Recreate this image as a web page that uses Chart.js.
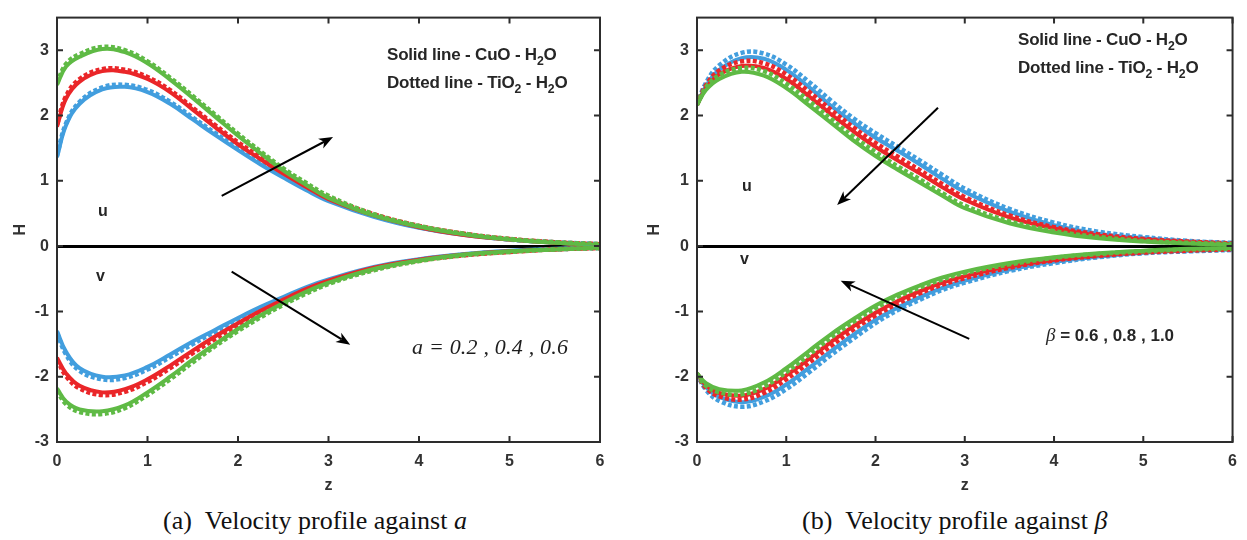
<!DOCTYPE html>
<html>
<head>
<meta charset="utf-8">
<script src="https://cdn.jsdelivr.net/npm/chart.js@4.4.1/dist/chart.umd.min.js"></script>
<style>
  html, body { margin: 0; padding: 0; background: #fff; }
  #wrap { position: relative; width: 1247px; height: 540px; background: #fff; overflow: hidden; }
  canvas { position: absolute; top: 0; }
  .t { position: absolute; white-space: nowrap; color: #262626; font-family: "Liberation Sans", Arial, sans-serif; font-weight: bold; }
  .leg { font-size: 17px; line-height: 17px; letter-spacing: -0.2px; }
  .leg sub { font-size: 0.72em; vertical-align: -0.38em; line-height: 0; }
  .uv { font-size: 16px; line-height: 16px; }
  .par { font-family: "Liberation Serif", "Times New Roman", serif; font-style: italic; font-weight: normal; font-size: 22px; line-height: 22px; color: #1e1e1e; letter-spacing: 0.2px; }
  .beta { font-size: 17px; line-height: 17px; }
  .beta i { font-family: "Liberation Serif", serif; font-weight: normal; font-size: 19px; }
  .cap { font-family: "Liberation Serif", "Times New Roman", serif; font-weight: normal; font-size: 26px; line-height: 26px; color: #111; }
</style>
</head>
<body>
<div id="wrap">
  <canvas id="c1" width="620" height="500" style="left:0px"></canvas>
  <canvas id="c2" width="607" height="500" style="left:640px"></canvas>

  <div class="t leg" style="left:387px; top:46px;">Solid line - CuO - H<sub>2</sub>O</div>
  <div class="t leg" style="left:387px; top:74px;">Dotted line - TiO<sub>2</sub> - H<sub>2</sub>O</div>
  <div class="t uv" style="left:98px; top:203px;">u</div>
  <div class="t uv" style="left:96px; top:268px;">v</div>
  <div class="t par" style="left:412px; top:336px;">a = 0.2 , 0.4 , 0.6</div>

  <div class="t leg" style="left:1018px; top:31px;">Solid line - CuO - H<sub>2</sub>O</div>
  <div class="t leg" style="left:1018px; top:59px;">Dotted line - TiO<sub>2</sub> - H<sub>2</sub>O</div>
  <div class="t uv" style="left:742px; top:178px;">u</div>
  <div class="t uv" style="left:740px; top:251px;">v</div>
  <div class="t beta" style="left:1046px; top:326px;"><i>β</i> = 0.6 , 0.8 , 1.0</div>

  <div class="t cap" style="left:163px; top:508px;">(a)&nbsp;&nbsp;Velocity profile against <i>a</i></div>
  <div class="t cap" style="left:802px; top:508px;">(b)&nbsp;&nbsp;Velocity profile against <i>β</i></div>
</div>

<script>
// ---------------- DATA ----------------
const zValues = [0, 0.1, 0.25, 0.5, 0.75, 1, 1.25, 1.5, 1.75, 2, 2.25, 2.5, 2.75, 3, 3.5, 4, 4.5, 5, 5.5, 6];
const xTicks = [0, 1, 2, 3, 4, 5, 6];
const yTicks = [-3, -2, -1, 0, 1, 2, 3];

// Panel (a): varying a = 0.2 (blue), 0.4 (red), 0.6 (green)
const aUBlueSolid   = [1.36, 1.85, 2.18, 2.40, 2.44, 2.36, 2.18, 1.94, 1.70, 1.47, 1.25, 1.05, 0.86, 0.69, 0.45, 0.28, 0.17, 0.10, 0.05, 0.02];
const aUBlueDotted  = [1.39, 1.88, 2.21, 2.43, 2.47, 2.39, 2.21, 1.97, 1.73, 1.50, 1.28, 1.08, 0.88, 0.71, 0.47, 0.29, 0.18, 0.10, 0.06, 0.03];
const aURedSolid    = [1.83, 2.26, 2.52, 2.68, 2.67, 2.56, 2.36, 2.09, 1.82, 1.56, 1.33, 1.11, 0.91, 0.72, 0.47, 0.29, 0.17, 0.10, 0.05, 0.02];
const aURedDotted   = [1.86, 2.30, 2.56, 2.71, 2.70, 2.59, 2.39, 2.12, 1.85, 1.59, 1.36, 1.14, 0.93, 0.74, 0.49, 0.31, 0.19, 0.11, 0.06, 0.03];
const aUGreenSolid  = [2.47, 2.75, 2.90, 3.02, 2.97, 2.80, 2.55, 2.27, 1.98, 1.69, 1.42, 1.16, 0.94, 0.74, 0.47, 0.30, 0.18, 0.10, 0.05, 0.02];
const aUGreenDotted = [2.50, 2.79, 2.94, 3.05, 3.00, 2.83, 2.58, 2.30, 2.01, 1.72, 1.45, 1.19, 0.97, 0.77, 0.49, 0.31, 0.19, 0.11, 0.06, 0.03];

const aVBlueSolid   = [-1.30, -1.62, -1.87, -2.00, -1.98, -1.85, -1.66, -1.46, -1.28, -1.10, -0.93, -0.78, -0.63, -0.51, -0.32, -0.20, -0.12, -0.07, -0.04, -0.02];
const aVBlueDotted  = [-1.33, -1.66, -1.91, -2.04, -2.02, -1.89, -1.70, -1.50, -1.31, -1.13, -0.96, -0.80, -0.65, -0.53, -0.34, -0.21, -0.13, -0.08, -0.05, -0.03];
const aVRedSolid    = [-1.71, -1.95, -2.14, -2.24, -2.19, -2.04, -1.83, -1.60, -1.38, -1.18, -0.99, -0.82, -0.66, -0.53, -0.33, -0.21, -0.13, -0.08, -0.05, -0.02];
const aVRedDotted   = [-1.74, -1.99, -2.18, -2.28, -2.23, -2.08, -1.87, -1.64, -1.42, -1.21, -1.02, -0.85, -0.69, -0.55, -0.35, -0.22, -0.14, -0.09, -0.05, -0.03];
const aVGreenSolid  = [-2.18, -2.38, -2.50, -2.53, -2.44, -2.24, -2.00, -1.74, -1.50, -1.27, -1.06, -0.87, -0.70, -0.56, -0.35, -0.22, -0.13, -0.08, -0.05, -0.02];
const aVGreenDotted = [-2.21, -2.42, -2.54, -2.57, -2.48, -2.28, -2.04, -1.78, -1.53, -1.30, -1.09, -0.90, -0.73, -0.58, -0.37, -0.23, -0.14, -0.09, -0.05, -0.03];

// Panel (b): varying beta = 0.6 (blue), 0.8 (red), 1.0 (green)
const bUBlueSolid   = [2.16, 2.45, 2.70, 2.88, 2.87, 2.70, 2.44, 2.15, 1.89, 1.66, 1.46, 1.25, 1.03, 0.83, 0.53, 0.32, 0.19, 0.12, 0.07, 0.04];
const bUBlueDotted  = [2.17, 2.50, 2.77, 2.96, 2.95, 2.78, 2.52, 2.23, 1.96, 1.73, 1.52, 1.31, 1.09, 0.88, 0.57, 0.36, 0.22, 0.14, 0.08, 0.05];
const bURedSolid    = [2.16, 2.42, 2.63, 2.76, 2.73, 2.56, 2.30, 2.02, 1.76, 1.52, 1.31, 1.11, 0.90, 0.71, 0.44, 0.27, 0.16, 0.10, 0.06, 0.03];
const bURedDotted   = [2.17, 2.46, 2.69, 2.83, 2.80, 2.63, 2.37, 2.09, 1.82, 1.58, 1.37, 1.16, 0.95, 0.75, 0.47, 0.29, 0.18, 0.11, 0.07, 0.04];
const bUGreenSolid  = [2.16, 2.39, 2.56, 2.67, 2.61, 2.42, 2.16, 1.89, 1.62, 1.38, 1.17, 0.97, 0.77, 0.58, 0.35, 0.21, 0.12, 0.07, 0.04, 0.02];
const bUGreenDotted = [2.17, 2.43, 2.62, 2.73, 2.68, 2.49, 2.23, 1.95, 1.68, 1.44, 1.22, 1.02, 0.81, 0.62, 0.38, 0.23, 0.14, 0.08, 0.05, 0.03];

const bVBlueSolid   = [-1.95, -2.16, -2.31, -2.39, -2.31, -2.12, -1.87, -1.61, -1.36, -1.13, -0.94, -0.78, -0.64, -0.53, -0.36, -0.24, -0.16, -0.10, -0.07, -0.05];
const bVBlueDotted  = [-1.96, -2.20, -2.37, -2.46, -2.38, -2.19, -1.94, -1.67, -1.42, -1.18, -0.98, -0.82, -0.67, -0.56, -0.38, -0.26, -0.17, -0.11, -0.08, -0.06];
const bVRedSolid    = [-1.95, -2.13, -2.25, -2.29, -2.19, -1.98, -1.73, -1.47, -1.23, -1.02, -0.84, -0.69, -0.56, -0.46, -0.31, -0.21, -0.14, -0.09, -0.06, -0.04];
const bVRedDotted   = [-1.96, -2.17, -2.30, -2.35, -2.25, -2.04, -1.79, -1.53, -1.28, -1.06, -0.88, -0.72, -0.59, -0.49, -0.33, -0.22, -0.15, -0.10, -0.07, -0.05];
const bVGreenSolid  = [-1.95, -2.10, -2.19, -2.21, -2.09, -1.87, -1.61, -1.35, -1.12, -0.91, -0.74, -0.60, -0.48, -0.39, -0.26, -0.17, -0.11, -0.07, -0.04, -0.03];
const bVGreenDotted = [-1.96, -2.14, -2.24, -2.27, -2.15, -1.93, -1.67, -1.40, -1.16, -0.95, -0.77, -0.63, -0.51, -0.41, -0.28, -0.18, -0.12, -0.08, -0.05, -0.04];

// Arrow annotations in data units: [zFrom, HFrom, zTo, HTo]
const arrowsA = [[1.82, 0.77, 3.05, 1.67], [1.93, -0.39, 3.24, -1.51]];
const arrowsB = [[2.70, 2.12, 1.57, 0.63], [3.05, -1.42, 1.61, -0.53]];

// ---------------- STYLE ----------------
const BLUE = '#429ede', RED = '#ea2629', GREEN = '#5fba45';
Chart.defaults.font.family = '"Liberation Sans", Arial, sans-serif';

function series(vals, color, dotted) {
  return {
    data: zValues.map((z, i) => ({ x: z, y: vals[i] })),
    borderColor: color,
    backgroundColor: color,
    borderWidth: dotted ? 4.5 : 4,
    borderDash: dotted ? [4, 2.4] : [],
    borderCapStyle: 'butt',
    pointRadius: 0,
    tension: 0.4,
    fill: false
  };
}

function ordered(list) {
  // first in list is drawn first (underneath)
  return list.map((d, i) => Object.assign(d, { order: list.length - i }));
}

function drawArrow(ctx, x1, y1, x2, y2) {
  const ang = Math.atan2(y2 - y1, x2 - x1);
  const c = Math.cos(ang), s = Math.sin(ang);
  const L = 14, W = 5.5, N = 4;
  ctx.strokeStyle = '#000';
  ctx.fillStyle = '#000';
  ctx.lineWidth = 2;
  ctx.beginPath();
  ctx.moveTo(x1, y1);
  ctx.lineTo(x2 - (L - N) * c, y2 - (L - N) * s);
  ctx.stroke();
  const bx = x2 - L * c, by = y2 - L * s;
  ctx.beginPath();
  ctx.moveTo(x2, y2);
  ctx.lineTo(bx - W * s, by + W * c);
  ctx.lineTo(x2 - (L - N) * c, y2 - (L - N) * s);
  ctx.lineTo(bx + W * s, by - W * c);
  ctx.closePath();
  ctx.fill();
}

const framePlugin = {
  id: 'frameArrows',
  afterDatasetsDraw(chart, args, opts) {
    const { ctx, chartArea: { left, right, top, bottom }, scales: { x, y } } = chart;
    ctx.save();
    for (const a of opts.arrows) {
      drawArrow(ctx, x.getPixelForValue(a[0]), y.getPixelForValue(a[1]),
                     x.getPixelForValue(a[2]), y.getPixelForValue(a[3]));
    }
    ctx.strokeStyle = '#2d2d2d';
    ctx.lineWidth = 2;
    ctx.strokeRect(left, top, right - left, bottom - top);
    const T = 6;
    ctx.beginPath();
    for (const v of xTicks) {
      const px = x.getPixelForValue(v);
      ctx.moveTo(px, bottom); ctx.lineTo(px, bottom - T);
      ctx.moveTo(px, top); ctx.lineTo(px, top + T);
    }
    for (const v of yTicks) {
      const py = y.getPixelForValue(v);
      ctx.moveTo(left, py); ctx.lineTo(left + T, py);
      ctx.moveTo(right, py); ctx.lineTo(right - T, py);
    }
    ctx.stroke();
    ctx.restore();
  }
};

function makeChart(id, sets, arrows, padRight, titlePad) {
  const U = sets.u, V = sets.v;
  const datasets = ordered([
    series(U[0], BLUE, false), series(U[1], BLUE, true),
    series(U[2], RED, false), series(U[3], RED, true),
    series(U[4], GREEN, false), series(U[5], GREEN, true),
    series(V[0], BLUE, false), series(V[1], BLUE, true),
    series(V[2], RED, false), series(V[3], RED, true),
    series(V[4], GREEN, false), series(V[5], GREEN, true)
  ]);
  const tickFont = { size: 16, weight: 'bold' };
  return new Chart(document.getElementById(id), {
    type: 'line',
    data: { datasets },
    plugins: [framePlugin],
    options: {
      responsive: false,
      animation: false,
      devicePixelRatio: 1,
      layout: { padding: { left: 0, top: 13, right: padRight, bottom: 0 } },
      plugins: {
        legend: { display: false },
        tooltip: { enabled: false },
        frameArrows: { arrows }
      },
      scales: {
        x: {
          type: 'linear', min: 0, max: 6,
          afterBuildTicks: s => { s.ticks = xTicks.map(v => ({ value: v })); },
          afterFit: s => { s.height = 58; },
          ticks: { font: tickFont, color: '#333', padding: 10, maxRotation: 0 },
          grid: { display: false, drawTicks: false },
          border: { display: false },
          title: { display: true, text: 'z', font: { size: 16, weight: 'bold' }, color: '#333', padding: { top: 0, bottom: 5 } }
        },
        y: {
          type: 'linear', min: -3, max: 3.5,
          afterBuildTicks: s => { s.ticks = yTicks.map(v => ({ value: v })); },
          afterFit: s => { s.width = 57; },
          ticks: { font: tickFont, color: '#333', padding: 8 },
          grid: {
            drawTicks: false,
            color: c => (c.tick && c.tick.value === 0) ? '#000' : 'rgba(0,0,0,0)',
            lineWidth: c => (c.tick && c.tick.value === 0) ? 3 : 0
          },
          border: { display: false },
          title: { display: true, text: 'H', font: { size: 16, weight: 'bold' }, color: '#333', padding: { top: titlePad, bottom: 0 } }
        }
      }
    }
  });
}

makeChart('c1', {
  u: [aUBlueSolid, aUBlueDotted, aURedSolid, aURedDotted, aUGreenSolid, aUGreenDotted],
  v: [aVBlueSolid, aVBlueDotted, aVRedSolid, aVRedDotted, aVGreenSolid, aVGreenDotted]
}, arrowsA, 20, 11);

makeChart('c2', {
  u: [bUBlueSolid, bUBlueDotted, bURedSolid, bURedDotted, bUGreenSolid, bUGreenDotted],
  v: [bVBlueSolid, bVBlueDotted, bVRedSolid, bVRedDotted, bVGreenSolid, bVGreenDotted]
}, arrowsB, 10, 5);
</script>
</body>
</html>
